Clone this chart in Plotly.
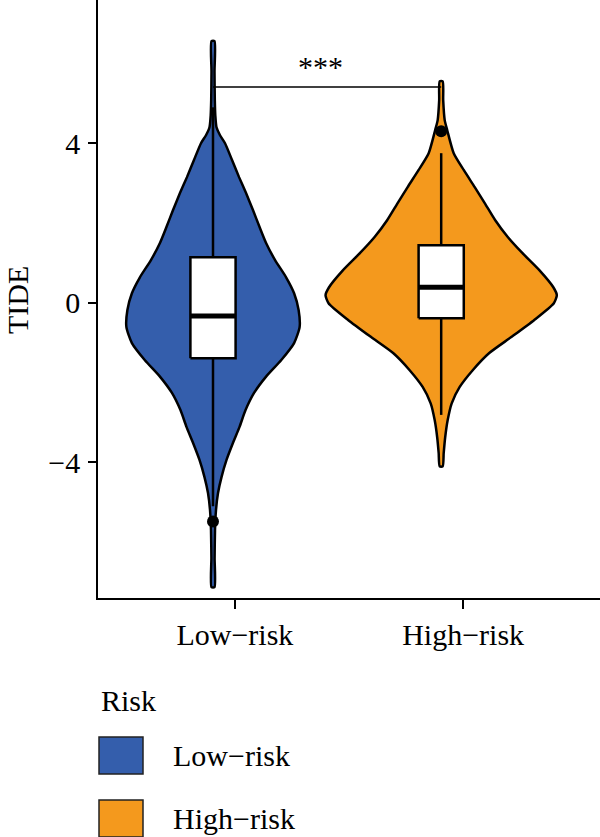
import plotly.graph_objects as go

# ---------------- data ----------------
groups = ["Low-risk", "High-risk"]
colors = ["#345EAC", "#F4991D"]
y_ticks = [-4, 0, 4]

# violin outline profiles: value and half width relative to the widest violin
low_y = [6.56, 5.80, 5.08, 4.70, 4.40, 4.20, 4.00, 3.58, 3.15, 2.75, 2.32, 1.90, 1.50, 1.07, 0.64, 0.24,
         -0.18, -0.61, -1.01, -1.44, -1.85, -2.26, -2.69, -3.11, -3.51, -3.94, -4.37, -4.77, -5.19,
         -5.70, -6.40, -7.13]
low_hw = [1.5, 1.5, 1.8, 2.3, 3.5, 7.0, 12.0, 19.0, 26.0, 33.0, 40.0, 46.5, 53.0, 62.0, 73.0, 81.0,
          85.5, 86.5, 81.0, 68.0, 53.0, 41.0, 32.5, 26.5, 20.0, 13.5, 8.5, 5.0, 3.0,
          2.0, 1.6, 1.5]

high_y = [5.55, 5.08, 4.58, 4.33, 3.75, 3.33, 2.90, 2.50, 2.07, 1.65, 1.25, 0.82, 0.39, 0.19, -0.01,
          -0.43, -0.86, -1.26, -1.69, -2.11, -2.52, -2.94, -3.37, -3.77, -4.10]
high_hw = [1.5, 2.0, 3.5, 6.0, 12.5, 22.5, 33.5, 43.5, 54.0, 66.5, 81.0, 98.0, 112.0, 115.5, 112.5,
           93.0, 70.0, 48.0, 31.5, 18.5, 10.5, 6.5, 4.0, 2.5, 1.5]

# box stats
q1 = [-1.39, -0.39]
median = [-0.33, 0.39]
q3 = [1.14, 1.44]
whisker_lo = [-5.10, -2.81]
whisker_hi = [4.90, 3.75]
outliers = [[-5.48], [4.30]]

sig_y = 5.41
sig_label = "***"
legend_title = "Risk"
y_title = "TIDE"

# ---------------- styling ----------------
FONT = "Liberation Serif"
DODGE = -0.096     # violin offset from the category tick
VW = 0.509 / 116.0  # x units per profile unit
BW = 0.099         # box half width
LW = 2.5

W, H = 600, 837
ML, MR, MT, MB = 98, 0, 0, 239
PW, PH = W - ML - MR, H - MT - MB


def px(x):
    return (x - ML) / PW


def py(y):
    return (H - MB - y) / PH


fig = go.Figure()

profiles = [(low_y, low_hw), (high_y, high_hw)]
for i, (ys, ds) in enumerate(profiles):
    c = i + DODGE
    xr = [c + d * VW for d in ds]
    xl = [c - d * VW for d in ds][::-1]
    fig.add_trace(go.Scatter(
        x=xr + xl + [xr[0]], y=ys + ys[::-1] + [ys[0]], mode="lines", fill="toself",
        fillcolor=colors[i], line=dict(color="black", width=LW, shape="spline", smoothing=0.6),
        hoverinfo="skip", showlegend=False))

for i in range(len(groups)):
    c = i + DODGE
    # whiskers
    fig.add_trace(go.Scatter(x=[c, c], y=[q3[i], whisker_hi[i]], mode="lines",
                             line=dict(color="black", width=LW), showlegend=False, hoverinfo="skip"))
    fig.add_trace(go.Scatter(x=[c, c], y=[q1[i], whisker_lo[i]], mode="lines",
                             line=dict(color="black", width=LW), showlegend=False, hoverinfo="skip"))
    # box
    fig.add_trace(go.Scatter(x=[c - BW, c + BW, c + BW, c - BW, c - BW],
                             y=[q1[i], q1[i], q3[i], q3[i], q1[i]], mode="lines", fill="toself",
                             fillcolor="white", line=dict(color="black", width=LW),
                             showlegend=False, hoverinfo="skip"))
    # median
    fig.add_trace(go.Scatter(x=[c - BW, c + BW], y=[median[i], median[i]], mode="lines",
                             line=dict(color="black", width=5), showlegend=False, hoverinfo="skip"))
    # outliers
    fig.add_trace(go.Scatter(x=[c] * len(outliers[i]), y=outliers[i], mode="markers",
                             marker=dict(color="black", size=12), showlegend=False, hoverinfo="skip"))

# significance bracket
fig.add_trace(go.Scatter(x=[0 + DODGE, 1 + DODGE], y=[sig_y, sig_y], mode="lines",
                         line=dict(color="black", width=1.5), showlegend=False, hoverinfo="skip"))
fig.add_annotation(x=(0 + 1) / 2 + DODGE, y=sig_y, text=sig_label, showarrow=False,
                   xanchor="center", yanchor="bottom", xshift=-7, yshift=2,
                   font=dict(family=FONT, size=30, color="black"))

# y title
fig.add_annotation(x=px(17), y=py(300), xref="paper", yref="paper", text=y_title,
                   textangle=-90, showarrow=False, xanchor="center", yanchor="middle",
                   font=dict(family=FONT, size=30, color="black"))

# legend (drawn manually)
fig.add_annotation(x=px(99), y=py(700), xref="paper", yref="paper", text=legend_title,
                   showarrow=False, xanchor="left", yanchor="middle",
                   font=dict(family=FONT, size=30, color="black"))
key_tops = [737, 800]
for i, g in enumerate(groups):
    fig.add_shape(type="rect", xref="paper", yref="paper",
                  x0=px(99), x1=px(143), y0=py(key_tops[i]), y1=py(key_tops[i] + 37),
                  fillcolor=colors[i], line=dict(color="#222222", width=1.5))
    fig.add_annotation(x=px(171), y=py(key_tops[i] + 18), xref="paper", yref="paper",
                       text=g.replace("-", "\u2212"), showarrow=False, xanchor="left", yanchor="middle",
                       font=dict(family=FONT, size=30, color="black"))

fig.update_layout(
    width=W, height=H, margin=dict(l=ML, r=MR, t=MT, b=MB),
    plot_bgcolor="white", paper_bgcolor="white",
    font=dict(family=FONT, size=30, color="black"),
    showlegend=False,
)
fig.update_xaxes(range=[-0.6, 1.6], tickvals=list(range(len(groups))),
                 ticktext=[g.replace("-", "\u2212") for g in groups],
                 ticks="outside", ticklen=9, tickwidth=1.5, tickcolor="black",
                 showline=True, linecolor="black", linewidth=1.5,
                 showgrid=False, zeroline=False, tickfont=dict(family=FONT, size=30))
fig.update_yaxes(range=[-7.40, 7.59], tickvals=y_ticks,
                 ticks="outside", ticklen=8, tickwidth=1.5, tickcolor="black",
                 showline=True, linecolor="black", linewidth=1.5, ticklabelstandoff=2,
                 showgrid=False, zeroline=False, tickfont=dict(family=FONT, size=30))

fig.write_html("out.html")
